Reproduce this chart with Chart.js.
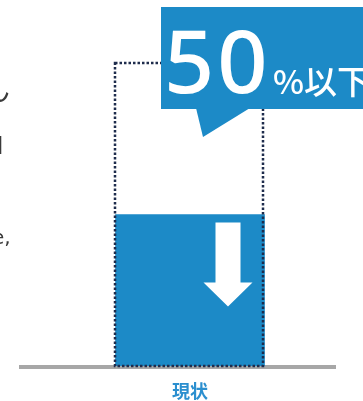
<!DOCTYPE html>
<html>
<head>
<meta charset="utf-8">
<script src="https://cdn.jsdelivr.net/npm/chart.js@4.4.1/dist/chart.umd.min.js"></script>
<style>
  html, body { margin: 0; padding: 0; background: #fff; }
  #wrap { width: 363px; height: 401px; position: relative; }
</style>
</head>
<body>
<div id="wrap"><canvas id="reduceChart"></canvas></div>
<script>
// data
var categories = ['現状'];
var currentValues = [50];   // filled blue bar (% of original)
var originalValues = [100]; // dotted outline (before)
var calloutSuffix = '%以下';

var BLUE = '#1c8ac7';
var NAVY = '#1e2c4c';
var JP = '"Noto Sans CJK JP", "Noto Sans", sans-serif';

// dotted outline, arrow, callout and baseline
var decoPlugin = {
    id: 'deco',
    beforeDatasetsDraw: function(chart) {
        var ctx = chart.ctx;
        // cut-off text at the left edge
        ctx.save();
        ctx.fillStyle = '#3a3a3a';
        ctx.font = '30px ' + JP;
        ctx.fillText('ん', -20, 100);
        ctx.font = '22px ' + JP;
        ctx.fillText('口', -18, 152);
        ctx.font = '20px "DejaVu Sans", sans-serif';
        ctx.fillText('e,', -8, 244);
        ctx.restore();

        // gray baseline
        var yb = chart.scales.y.getPixelForValue(0);
        ctx.save();
        ctx.fillStyle = '#a7a7a7';
        ctx.fillRect(19, yb - 1, 317, 4);
        ctx.restore();
    },
    afterDatasetsDraw: function(chart) {
        var ctx = chart.ctx;
        var cur = chart.getDatasetMeta(0).data[0];
        var orig = chart.getDatasetMeta(1).data[0];

        // white down arrow inside the current bar
        var ax = cur.x + 38;
        var at = cur.y + 8;
        ctx.save();
        ctx.fillStyle = '#fff';
        ctx.beginPath();
        ctx.moveTo(ax - 12.5, at);
        ctx.lineTo(ax + 12.5, at);
        ctx.lineTo(ax + 12.5, at + 60);
        ctx.lineTo(ax + 24.5, at + 60);
        ctx.lineTo(ax, at + 84);
        ctx.lineTo(ax - 24.5, at + 60);
        ctx.lineTo(ax - 12.5, at + 60);
        ctx.closePath();
        ctx.fill();
        ctx.restore();

        // dotted outline of the original bar
        var half = orig.width / 2;
        ctx.save();
        ctx.strokeStyle = NAVY;
        ctx.lineWidth = 2.5;
        ctx.setLineDash([2.5, 2]);
        ctx.strokeRect(orig.x - half - 0.5, orig.y, orig.width - 1, orig.base - orig.y);
        ctx.restore();

        // callout box
        ctx.save();
        ctx.fillStyle = BLUE;
        ctx.fillRect(161, 7, 210, 102);
        ctx.beginPath();
        ctx.moveTo(196, 108);
        ctx.lineTo(203, 137);
        ctx.lineTo(250, 108);
        ctx.closePath();
        ctx.fill();
        ctx.fillStyle = '#fff';
        ctx.textBaseline = 'alphabetic';
        ctx.font = '500 88px "Noto Sans", sans-serif';
        ctx.letterSpacing = '3px';
        ctx.fillText(String(currentValues[0]), 164, 93);
        ctx.letterSpacing = '0px';
        ctx.font = '500 33px ' + JP;
        ctx.fillText(calloutSuffix, 273, 94);
        ctx.restore();
    }
};

var ctx = document.getElementById('reduceChart').getContext('2d');
var reduceChart = new Chart(ctx, {
    type: 'bar',
    data: {
        labels: categories,
        datasets: [{
            label: '現状',
            data: currentValues,
            backgroundColor: BLUE,
            borderWidth: 0,
            grouped: false,
            barThickness: 149
        }, {
            label: '元',
            data: originalValues,
            backgroundColor: 'rgba(0,0,0,0)',
            borderWidth: 0,
            grouped: false,
            barThickness: 149
        }]
    },
    options: {
        responsive: true,
        maintainAspectRatio: false,
        animation: false,
        layout: {
            padding: { top: 63, left: 18, right: 1, bottom: 1 }
        },
        plugins: {
            legend: { display: false },
            tooltip: { enabled: false }
        },
        scales: {
            y: {
                display: false,
                min: 0,
                max: 100
            },
            x: {
                grid: { display: false, drawTicks: false },
                border: { display: false },
                afterFit: function(scale) {
                    scale.height = 34;
                },
                ticks: {
                    color: '#2b8fcf',
                    padding: 14,
                    font: { family: JP, size: 18, weight: 'bold' }
                }
            }
        }
    },
    plugins: [decoPlugin]
});
</script>
</body>
</html>
